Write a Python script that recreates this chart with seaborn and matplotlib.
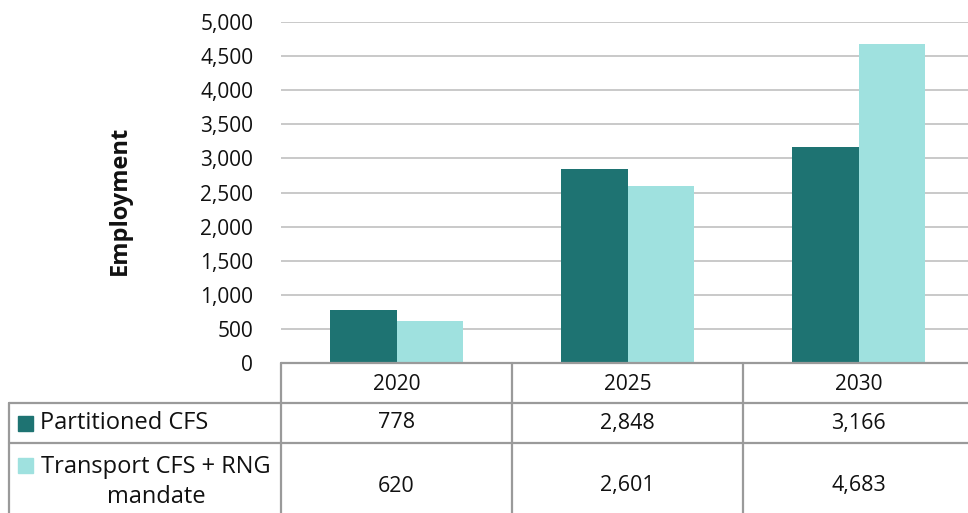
import matplotlib
matplotlib.use("Agg")
import matplotlib.pyplot as plt
from matplotlib.lines import Line2D
from matplotlib.patches import Rectangle
import pandas as pd
import seaborn as sns

years = ["2020", "2025", "2030"]
series_names = ["Partitioned CFS", "Transport CFS + RNG\nmandate"]
partitioned_cfs = [778, 2848, 3166]
transport_cfs_rng = [620, 2601, 4683]
y_ticks = [0, 500, 1000, 1500, 2000, 2500, 3000, 3500, 4000, 4500, 5000]

colors = ["#1e7372", "#9fe1df"]
grid_col = "#c0c0c0"
table_col = "#9a9a9a"
text_col = "#111111"

sns.set_theme(style="white")
plt.rcParams["font.family"] = ["Open Sans", "DejaVu Sans"]

W, H = 968, 513
fig = plt.figure(figsize=(W / 100, H / 100), dpi=100)


def fx(px):
    return px / W


def fy(py):
    return 1 - py / H


# plot area: x from 281 px, one category = 231 px; y from 363 (0) to 22 (5000)
left, cat_w = 281, 231
ax = fig.add_axes([fx(left), fy(363), 3 * cat_w / W, (363 - 22) / H])

df = pd.DataFrame({
    "year": years * 2,
    "series": [series_names[0]] * 3 + [series_names[1]] * 3,
    "value": partitioned_cfs + transport_cfs_rng,
})
sns.barplot(data=df, x="year", y="value", hue="series", order=years,
            hue_order=series_names, palette=colors, width=0.572,
            saturation=1, legend=False, ax=ax, zorder=3)
for p in ax.patches:
    p.set_linewidth(0)

ax.set_xlim(-0.5, 2.5)
ax.set_ylim(0, 5000)
ax.set_yticks(y_ticks)
ax.set_yticklabels([f"{v:,}" for v in y_ticks], fontsize=15, color=text_col)
ax.set_xticks([])
ax.set_xlabel("")
ax.set_ylabel("Employment", fontsize=17, fontweight="bold", labelpad=49,
              color=text_col)
ax.yaxis.label.set_y(0.477)
ax.tick_params(axis="y", length=0, pad=20)
ax.yaxis.grid(True, color=grid_col, linewidth=1.2, zorder=0)
for s in ["top", "right", "left", "bottom"]:
    ax.spines[s].set_visible(False)

# data table beneath the axis
right_px = W + 10
lw = 1.6
lines = [
    ((left, right_px), (363, 363)),
    ((9, right_px), (403, 403)),
    ((9, right_px), (443, 443)),
    ((9, 9), (403, H + 5)),
]
for i in range(3):
    xv = left + i * cat_w
    lines.append(((xv, xv), (363, H + 5)))
for (x0, x1), (y0, y1) in lines:
    fig.add_artist(Line2D([fx(x0), fx(x1)], [fy(y0), fy(y1)],
                          color=table_col, linewidth=lw))

for i, yr in enumerate(years):
    cx = left + (i + 0.5) * cat_w
    fig.text(fx(cx), fy(384), yr, ha="center", va="center", fontsize=15,
             color=text_col)
    fig.text(fx(cx), fy(423), f"{partitioned_cfs[i]:,}", ha="center",
             va="center", fontsize=15.5, color=text_col)
    fig.text(fx(cx), fy(486), f"{transport_cfs_rng[i]:,}", ha="center",
             va="center", fontsize=15.5, color=text_col)

# series keys in the row headers
fig.add_artist(Rectangle((fx(18), fy(431)), 15 / W, 15 / H, color=colors[0]))
fig.add_artist(Rectangle((fx(18), fy(473)), 15 / W, 15 / H, color=colors[1]))
fig.text(fx(40), fy(423), series_names[0], ha="left", va="center",
         fontsize=17, color=text_col)
fig.text(fx(156), fy(482), series_names[1], ha="center", va="center",
         fontsize=17, color=text_col, linespacing=1.3,
         multialignment="center")

fig.savefig("out.png", dpi=100)
